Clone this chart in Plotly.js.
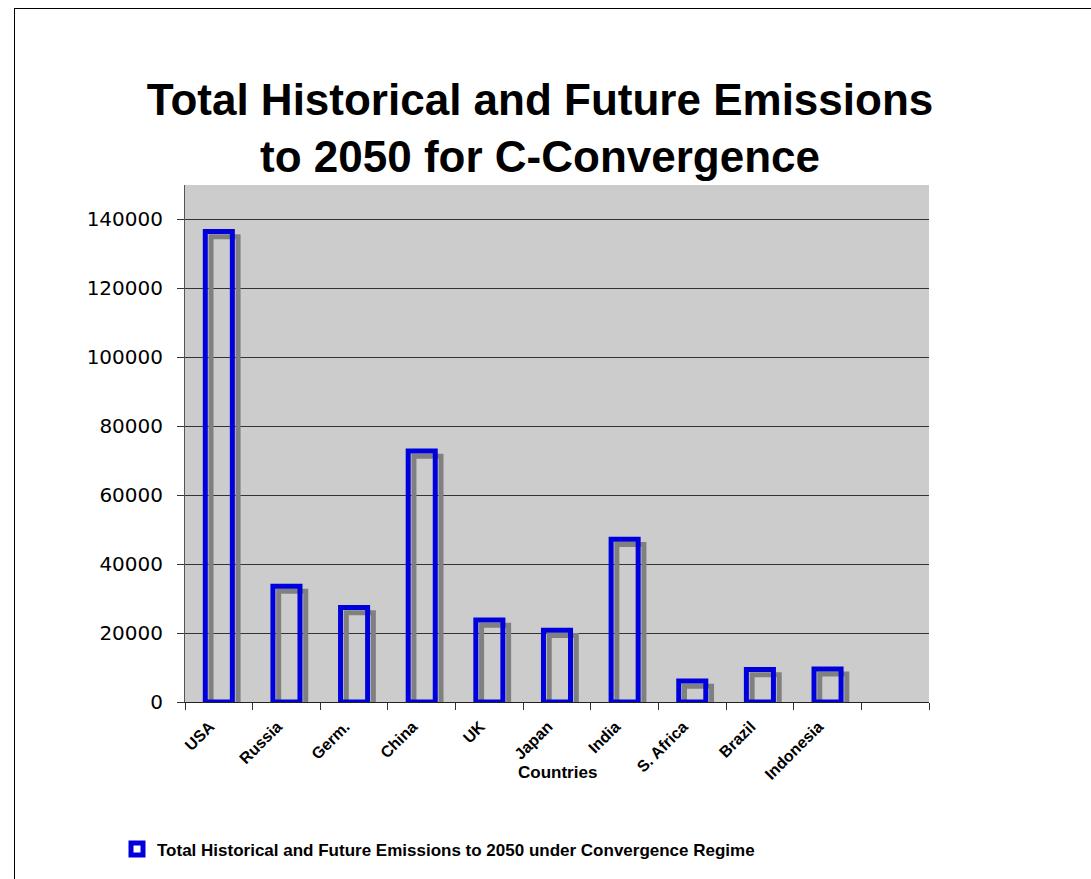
<!DOCTYPE html>
<html>
<head>
<meta charset="utf-8">
<script src="https://cdn.plot.ly/plotly-3.0.1.min.js"></script>
<style>
  html, body { margin: 0; padding: 0; background: #ffffff; }
  #wrap { position: relative; width: 1091px; height: 879px; }
  #chart { position: absolute; left: 0; top: 0; width: 1091px; height: 879px; }
  #frame {
    position: absolute; left: 14px; top: 8px; right: 0; bottom: 0;
    border-top: 1px solid #000; border-left: 1px solid #000;
    pointer-events: none;
  }
</style>
</head>
<body>
<div id="wrap">
  <div id="chart"></div>
  <div id="frame"></div>
</div>
<script>
// Cumulative emissions per country (historical + future to 2050)
const countries = ["USA", "Russia", "Germ.", "China", "UK", "Japan", "India", "S. Africa", "Brazil", "Indonesia"];
const emissions = [136500, 33600, 27400, 72800, 23800, 20800, 47200, 6100, 9400, 9600];
// an eleventh, empty slot keeps room at the right end of the axis
const slots = countries.concat([" "]);
const yTicks = [0, 20000, 40000, 60000, 80000, 100000, 120000, 140000];

const seriesName = "Total Historical and Future Emissions to 2050 under Convergence Regime";
const xTitle = "Countries";
const barWidth = 0.4;
const shadowDx = 0.085;   // category units
const shadowDy = 1500;    // value units

const shadow = {
  type: "bar",
  x: countries,
  y: emissions,
  base: emissions.map(() => -shadowDy),
  width: barWidth,
  offset: -barWidth / 2 + shadowDx,
  marker: { color: "rgba(0,0,0,0)", line: { color: "#808080", width: 5 } },
  showlegend: false,
  hoverinfo: "skip"
};

const bars = {
  type: "bar",
  name: seriesName,
  x: countries,
  y: emissions,
  width: barWidth,
  offset: -barWidth / 2,
  marker: { color: "rgba(0,0,0,0)", line: { color: "#0000dd", width: 5 } },
  hoverinfo: "x+y"
};

const layout = {
  width: 1091,
  height: 879,
  margin: { l: 185, r: 162, t: 185, b: 177, pad: 0 },
  paper_bgcolor: "rgba(0,0,0,0)",
  plot_bgcolor: "#cccccc",
  barmode: "overlay",
  font: { family: "Liberation Sans, Arial, sans-serif", color: "#000" },
  title: {
    text: "<b>Total Historical and Future Emissions<br>to 2050 for C-Convergence</b>",
    font: { family: "Liberation Sans, Arial, sans-serif", size: 44, color: "#000" },
    x: 0.495, xanchor: "center", xref: "container",
    y: 1 - 115 / 879, yanchor: "top", yref: "container"
  },
  xaxis: {
    type: "category",
    categoryorder: "array",
    categoryarray: slots,
    range: [-0.5, slots.length - 0.5],
    tickson: "boundaries",
    ticks: "outside",
    ticklen: 7,
    tickcolor: "#333",
    tickwidth: 1,
    tickangle: -45,
    ticklabelshift: -9,
    ticklabelstandoff: 8,
    tickfont: { family: "Liberation Sans, Arial, sans-serif", size: 16, weight: "bold", color: "#000" },
    showgrid: false,
    showline: true,
    linecolor: "#222",
    linewidth: 1,
    zeroline: false
  },
  yaxis: {
    range: [0, 150000],
    tickvals: yTicks,
    ticktext: yTicks.map(String),
    ticks: "outside",
    ticklen: 7,
    tickcolor: "#333",
    tickwidth: 1,
    tickfont: { family: "DejaVu Sans, sans-serif", size: 20, color: "#000" },
    ticklabelstandoff: 10,
    showgrid: true,
    gridcolor: "#333",
    gridwidth: 1,
    showline: true,
    linecolor: "#555",
    linewidth: 1,
    zeroline: false
  },
  annotations: [{
    text: "<b>" + xTitle + "</b>",
    xref: "paper", yref: "paper",
    x: 0.5, xanchor: "center",
    y: -(772 - 701.7) / 516.7, yanchor: "middle",
    showarrow: false,
    font: { family: "Liberation Sans, Arial, sans-serif", size: 17, color: "#000" }
  }],
  showlegend: true,
  legend: {
    orientation: "h",
    x: -68 / 744, xanchor: "left",
    y: -(849 - 701.7) / 516.7, yanchor: "middle",
    font: { family: "Liberation Sans, Arial, sans-serif", size: 17, weight: "bold", color: "#000" },
    bgcolor: "rgba(0,0,0,0)"
  }
};

Plotly.newPlot("chart", [shadow, bars], layout, { displayModeBar: false, staticPlot: true });
</script>
</body>
</html>
